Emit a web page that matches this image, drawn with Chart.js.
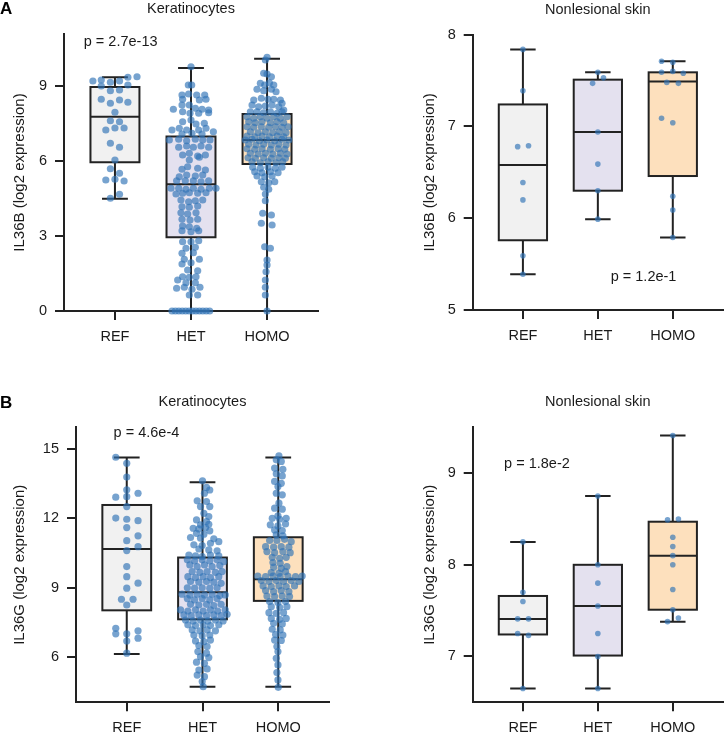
<!DOCTYPE html>
<html>
<head>
<meta charset="utf-8">
<script src="https://cdn.jsdelivr.net/npm/chart.js@4.4.1/dist/chart.umd.min.js"></script>
<style>
  body { margin: 0; background: #fff; width: 727px; height: 734px; overflow: hidden; position: relative; }
  canvas { position: absolute; left: 0; top: 0; }
  .tag { position: absolute; font: bold 17px "Liberation Sans", Arial, sans-serif; color: #000; }
</style>
</head>
<body>
<canvas id="keraB" width="727" height="734"></canvas>
<canvas id="skinB" width="727" height="734"></canvas>
<canvas id="keraG" width="727" height="734"></canvas>
<canvas id="skinG" width="727" height="734"></canvas>
<div class="tag" style="left:0px;top:-1px">A</div>
<div class="tag" style="left:0px;top:393px">B</div>
<script>
// groups on the x axis
const groups = ["REF", "HET", "HOMO"];

// points are [jitter offset, log2 expression]
// IL36B, keratinocytes
const keraB_ref = [
  [-0.29,9.2],[-0.18,9.24],[-0.06,9.15],[0.06,9.2],[0.17,9.35],[0.29,9.37],
  [-0.18,9.0],[-0.06,8.81],[0.06,8.84],[0.17,9.04],
  [-0.18,8.47],[-0.06,8.31],[0.06,8.44],[0.17,8.35],
  [0,7.95],[-0.06,7.61],[0.06,7.57],
  [-0.12,7.24],[0,7.32],[0.12,7.32],
  [-0.06,6.71],[0.06,6.55],[0,6.04],
  [-0.06,5.69],[0.06,5.51],
  [-0.12,5.24],[0,5.27],[0.12,5.2],
  [-0.06,4.51],[0.06,4.67]
];
const keraB_het = [
  [0,9.77],[-0.035,9.04],[0.009,9.04],
  [-0.118,8.64],[-0.031,8.68],[0.075,8.64],[0.18,8.64],
  [-0.11,8.47],[0.11,8.44],[0.197,8.47],
  [-0.232,8.07],[-0.118,8.24],[-0.022,8.24],[0.057,8.11],[0.145,8.07],[0.232,8.04],
  [-0.11,7.97],[-0.013,7.91],[0.101,7.91],[0.232,7.93],
  [-0.11,7.57],[0,7.64],[0.066,7.48],[0.175,7.51],
  [-0.154,7.31],[-0.057,7.24],[0.101,7.24],[0.197,7.31],[-0.25,7.24],[0.294,7.17],
  [-0.118,7.08],[0.013,7.11],[0.145,7.08],
  [-0.285,6.84],[-0.162,6.87],[-0.057,6.81],[0.057,6.87],[0.154,6.84],[0.25,6.84],
  [-0.162,6.55],[-0.057,6.6],[0.031,6.55],[0.132,6.6],[0.232,6.55],
  [-0.11,6.24],[-0.022,6.31],[0.088,6.2],[0.189,6.24],
  [-0.022,6.04],[0.11,6.15],
  [-0.118,5.67],[-0.044,5.77],[0.088,5.71],[0.189,5.64],
  [-0.154,5.37],[-0.057,5.44],[0.057,5.4],[0.154,5.44],
  [-0.189,5.21],[-0.075,5.21],[0.031,5.21],[0.132,5.17],[0.232,5.21],
  [-0.263,4.91],[-0.162,4.91],[-0.066,4.87],[0.031,4.91],[0.132,4.87],[0.241,4.91],[0.329,4.91],
  [-0.197,4.68],[-0.11,4.71],[-0.022,4.73],[0.088,4.71],[0.197,4.73],
  [-0.132,4.44],[-0.031,4.37],[0.057,4.41],[0.154,4.44],
  [-0.118,4.17],[-0.022,4.15],[0.088,4.2],
  [-0.132,3.93],[-0.044,3.88],[0.066,3.93],
  [-0.118,3.67],[-0.013,3.64],[0.088,3.67],
  [-0.11,3.4],[-0.022,3.37],[0.075,3.31],
  [-0.118,3.21],[0,3.17],[0.101,3.21],
  [-0.11,2.77],[0,2.77],[0.101,2.81],
  [-0.066,2.51],[0.057,2.55],
  [-0.118,2.31],[0.031,2.33],
  [-0.088,2.07],[0.11,2.07],
  [-0.118,1.88],[0,1.93],
  [-0.044,1.64],[0.088,1.61],
  [-0.11,1.37],[-0.022,1.35],[0.066,1.37],
  [-0.175,1.24],[-0.066,1.13],[0.057,1.13],
  [-0.189,0.91],[-0.088,0.95],[0.013,0.87],[0.118,0.95],
  [-0.022,0.64],[0.088,0.64],
  [-0.25,0],[-0.205,0],[-0.16,0],[-0.115,0],[-0.07,0],[-0.025,0],
  [0.02,0],[0.065,0],[0.11,0],[0.155,0],[0.2,0],[0.245,0]
];
const keraB_homo = [
  [0,10.15],[-0.022,10.04],
  [-0.044,9.51],[0,9.48],[0.057,9.37],
  [-0.088,9.11],[-0.031,9.04],[0.031,9.13],[0.088,9.04],
  [-0.132,8.87],[-0.044,8.81],[0.057,8.87],[0.118,8.77],
  [-0.175,8.44],[-0.075,8.51],[0.013,8.47],[0.088,8.47],[0.175,8.44],[0.197,8.31],
  [-0.197,8.24],[-0.11,8.17],[-0.022,8.2],[0.066,8.24],[0.154,8.17],[0.219,8.04],
  [-0.219,7.97],[-0.132,7.97],[-0.044,7.93],[0.044,7.97],[0.132,7.91],[0.197,7.97],
  [-0.263,7.77],[-0.175,7.71],[-0.088,7.77],[0,7.71],[0.088,7.77],[0.175,7.71],[0.263,7.77],
  [-0.241,7.57],[-0.154,7.53],[-0.066,7.57],[0.044,7.53],[0.132,7.57],[0.219,7.53],
  [-0.263,7.37],[-0.175,7.35],[-0.075,7.37],[0.022,7.35],[0.11,7.37],[0.197,7.35],[0.276,7.37],
  [-0.219,7.17],[-0.118,7.13],[-0.022,7.17],[0.075,7.13],[0.162,7.17],[0.25,7.13],
  [-0.263,7.0],[-0.162,6.97],[-0.066,7.0],[0.031,6.97],[0.132,7.0],[0.219,6.97],
  [-0.285,6.84],[-0.197,6.87],[-0.101,6.81],[0,6.84],[0.101,6.81],[0.197,6.87],[0.285,6.84],
  [-0.241,6.67],[-0.145,6.64],[-0.044,6.67],[0.057,6.64],[0.154,6.67],[0.25,6.64],
  [-0.263,6.49],[-0.162,6.47],[-0.066,6.49],[0.044,6.47],[0.145,6.49],[0.232,6.47],
  [-0.219,6.31],[-0.118,6.28],[-0.022,6.31],[0.075,6.28],[0.175,6.31],[0.263,6.28],
  [-0.25,6.13],[-0.154,6.11],[-0.044,6.13],[0.057,6.11],[0.154,6.13],[0.241,6.11],
  [-0.197,5.97],[-0.088,5.93],[0.013,5.97],[0.118,5.93],[0.206,5.97],
  [-0.189,5.75],[-0.088,5.71],[0.013,5.75],[0.11,5.71],[0.197,5.75],
  [-0.162,5.57],[-0.066,5.53],[0.044,5.57],[0.145,5.53],
  [-0.132,5.4],[-0.031,5.37],[0.066,5.4],
  [-0.075,5.17],[0.022,5.13],[0.101,5.17],
  [-0.044,4.95],[0.022,4.87],[-0.022,4.68],[-0.022,4.41],
  [-0.057,3.91],[0.057,3.84],[-0.075,3.51],[0.066,3.44],
  [-0.031,2.57],[0.044,2.51],
  [0,2.04],[0,1.84],[-0.013,1.57],[-0.022,1.24],[-0.022,0.95],[-0.022,0.64],[0,0]
];
// [min, q1, median, q3, max] per group
const keraB_box = [[4.49,5.95,7.77,8.96,9.35],[0,2.95,5.07,6.98,9.72],[0,5.88,6.84,7.88,10.09]];

// IL36B, nonlesional skin
const skinB_ref = [[0,7.84],[0,7.39],[-0.07,6.78],[0.075,6.79],[0,6.39],[0,6.2],[0,5.59],[0,5.39]];
const skinB_het = [[0,7.59],[-0.07,7.47],[0.075,7.53],[0,6.94],[0,6.59],[0,6.3],[0,5.99]];
const skinB_homo = [[-0.15,7.71],[0,7.7],[-0.15,7.59],[0,7.6],[0.14,7.58],[-0.08,7.48],[0.075,7.47],
  [-0.15,7.09],[0,7.04],[0,6.24],[0,6.09],[0,5.79]];
const skinB_box = [[5.39,5.76,6.58,7.24,7.84],[5.99,6.3,6.94,7.51,7.59],[5.79,6.46,7.49,7.59,7.71]];

// IL36G, keratinocytes
const keraG_ref = [
  [-0.145,14.65],[0,14.39],[0,13.79],[0,13.24],[-0.145,12.92],[0,12.94],[0.149,13.09],[0,12.51],
  [-0.145,12.01],[0,11.96],[0.149,11.9],[0,11.6],[0.149,11.24],[0,11.03],[0.149,10.77],[0,10.6],
  [0,9.91],[0,9.47],[0.149,9.19],[0,8.97],[-0.07,8.49],[0.083,8.49],[0,8.24],
  [-0.145,7.23],[0.149,7.12],[-0.145,6.99],[0,6.99],[0.149,6.8],[0,6.68],[0,6.15]
];
const keraG_het = [
  [0,13.63],[0.053,13.34],[0.096,13.23],[0.026,13.09],
  [-0.07,12.76],[0.053,12.73],[0.096,12.51],[-0.026,12.51],
  [0.018,12.22],[0.083,12.08],[-0.079,11.93],[0.053,11.86],[-0.026,11.72],[0.083,11.74],
  [-0.123,11.57],[-0.048,11.54],[0.04,11.6],[-0.079,11.35],[0.018,11.31],[0.096,11.46],
  [-0.158,11.17],[-0.026,11.14],[0.149,11.11],[0.105,10.92],[0.215,10.99],[-0.114,10.85],[-0.004,10.82],
  [-0.048,10.67],[0.083,10.63],[0.193,10.59],
  [-0.18,10.41],[-0.092,10.37],[-0.004,10.34],[0.105,10.41],[0.215,10.37],
  [-0.2,10.2],[-0.105,10.15],[-0.004,10.2],[0.096,10.15],[0.193,10.2],[0.28,10.12],
  [-0.167,9.98],[-0.07,9.91],[0.026,9.98],[0.127,9.91],[0.228,9.95],
  [-0.136,9.69],[-0.035,9.66],[0.061,9.69],[0.171,9.66],[0.259,9.69],
  [-0.193,9.47],[-0.092,9.43],[0.009,9.47],[0.105,9.43],[0.215,9.47],
  [-0.158,9.26],[-0.048,9.23],[0.053,9.26],[0.149,9.23],[0.246,9.18],
  [-0.2,8.99],[-0.105,8.97],[-0.004,8.99],[0.096,8.97],[0.193,8.99],
  [-0.27,8.71],[-0.167,8.68],[-0.07,8.71],[0.026,8.68],[0.127,8.71],[0.228,8.65],[0.3,8.68],
  [-0.2,8.52],[-0.105,8.46],[-0.004,8.52],[0.096,8.46],[0.193,8.52],
  [-0.158,8.27],[-0.048,8.24],[0.053,8.27],[0.149,8.22],[0.246,8.27],
  [-0.29,8.03],[-0.193,7.98],[-0.092,8.03],[0.009,7.98],[0.105,8.03],[0.2,7.98],[0.3,8.03],
  [-0.245,7.81],[-0.149,7.78],[-0.048,7.81],[0.053,7.78],[0.149,7.81],[0.246,7.78],[0.325,7.84],
  [-0.224,7.59],[-0.123,7.55],[-0.026,7.59],[0.07,7.55],[0.171,7.59],[0.272,7.55],
  [-0.193,7.38],[-0.092,7.35],[0.009,7.38],[0.105,7.35],[0.215,7.38],
  [-0.136,7.16],[-0.035,7.12],[0.061,7.16],[0.171,7.12],
  [-0.114,6.94],[-0.004,6.91],[0.096,6.94],
  [-0.092,6.68],[0.018,6.65],[0.105,6.72],
  [-0.048,6.48],[0.061,6.44],[-0.061,6.22],[0.053,6.15],
  [-0.026,6.0],[0.083,5.96],[-0.079,5.76],[0.026,5.71],
  [-0.048,5.42],[0.061,5.47],[-0.07,5.2],[0.026,5.13],
  [-0.004,4.92],[0.009,4.7]
];
const keraG_homo = [
  [0.009,14.71],[-0.026,14.54],[0.04,14.47],[-0.048,14.18],[0.061,14.13],[-0.026,13.93],[0.053,13.84],
  [-0.048,13.6],[0.04,13.52],[-0.004,13.38],[-0.026,13.09],[0.053,13.02],
  [0.009,12.66],[-0.048,12.44],[0.053,12.4],[-0.004,12.11],
  [-0.079,12.0],[0.018,11.96],[0.105,12.0],[-0.105,11.72],[-0.004,11.67],[0.096,11.76],
  [-0.048,11.5],[0.053,11.47],[-0.026,11.28],[0.061,11.24],
  [-0.114,11.04],[-0.018,11.04],[0.083,11.09],[0.171,10.99],
  [-0.167,10.77],[-0.061,10.75],[0.04,10.77],[0.14,10.75],
  [-0.149,10.56],[-0.048,10.51],[0.061,10.56],[0.158,10.51],
  [-0.079,10.31],[0.018,10.27],[0.105,10.31],
  [-0.07,10.08],[0.026,10.05],
  [-0.061,9.88],[0.04,9.83],[0.114,9.91],
  [-0.092,9.65],[0.009,9.62],[0.096,9.69],
  [-0.27,9.5],[-0.167,9.47],[-0.07,9.5],[0.026,9.47],[0.127,9.5],[0.228,9.47],[0.316,9.5],
  [-0.224,9.3],[-0.123,9.26],[-0.026,9.3],[0.07,9.26],[0.171,9.3],[0.272,9.26],
  [-0.2,9.07],[-0.092,9.04],[0.009,9.07],[0.105,9.04],[0.215,9.07],
  [-0.167,8.87],[-0.061,8.82],[0.04,8.87],[0.14,8.82],
  [-0.149,8.63],[-0.048,8.61],[0.053,8.63],[0.149,8.61],
  [-0.114,8.39],[-0.004,8.35],[0.096,8.39],
  [-0.092,8.17],[0.018,8.14],[0.114,8.17],
  [-0.123,7.91],[-0.026,7.88],[0.07,7.91],
  [-0.092,7.66],[0.018,7.62],[0.105,7.66],
  [-0.061,7.45],[0.053,7.42],[-0.079,7.19],[0.026,7.16],
  [-0.035,6.96],[0.061,6.94],[-0.048,6.72],[0.04,6.7],
  [-0.018,6.44],[-0.004,6.22],[-0.026,5.93],[-0.004,5.64],[-0.018,5.31],[-0.004,4.99],[0,4.67]
];
const keraG_box = [[6.12,8.01,10.67,12.58,14.64],[4.7,7.62,8.79,10.3,13.57],[4.7,8.42,9.36,11.18,14.64]];

// IL36G, nonlesional skin
const skinG_ref = [[0,8.25],[0,7.7],[0,7.6],[-0.07,7.41],[0.075,7.41],[-0.07,7.25],[0.075,7.23],[0,6.65]];
const skinG_het = [[0,8.75],[0,8.0],[0,7.8],[0,7.55],[0,7.25],[0,7.0],[0,6.65]];
const skinG_homo = [[0,9.41],[-0.07,8.49],[0.075,8.5],[0,8.3],[0,8.2],[0,8.1],[0,8.0],[0,7.73],[0,7.51],[0.075,7.42],[-0.07,7.38]];
const skinG_box = [[6.65,7.24,7.41,7.66,8.25],[6.65,7.01,7.55,8.0,8.75],[7.38,7.51,8.1,8.47,9.41]];

// tick values on the y axes
const keraB_ticks = [0, 3, 6, 9];
const skinB_ticks = [5, 6, 7, 8];
const keraG_ticks = [6, 9, 12, 15];
const skinG_ticks = [7, 8, 9];

const pValues = ["p = 2.7e-13", "p = 1.2e-1", "p = 4.6e-4", "p = 1.8e-2"];

const FONT = '"Liberation Sans", Arial, sans-serif';
const ink = "#222";
const fills = ["#f1f1f1", "#e4e1ef", "#fde0bd"];
const dotColor = "rgba(48,115,182,0.66)";

function makePanel(cfg) {
  const a = cfg.area;
  const datasets = cfg.points.map((pts, i) => ({
    data: pts.map(p => ({ x: i + p[0], y: p[1] })),
    backgroundColor: dotColor,
    borderWidth: 0,
    pointRadius: cfg.radius,
    clip: false,
  }));

  const axisGrid = { drawOnChartArea: false, drawTicks: true, tickLength: 9, color: ink, lineWidth: 2 };
  const axisBorder = { display: true, color: ink, width: 2 };

  // boxes, whiskers, panel title and p-value
  const boxes = {
    id: "boxes",
    beforeDatasetsDraw(chart) {
      const { ctx, scales: { x, y } } = chart;
      ctx.save();
      ctx.strokeStyle = ink;
      ctx.lineWidth = 2;
      cfg.box.forEach((b, i) => {
        const cx = x.getPixelForValue(i);
        const hw = x.getPixelForValue(i + 0.322) - cx;
        const cw = x.getPixelForValue(i + 0.17) - cx;
        const [lo, q1, med, q3, hi] = b.map(v => y.getPixelForValue(v));
        ctx.beginPath();
        ctx.moveTo(cx, lo); ctx.lineTo(cx, hi);
        ctx.moveTo(cx - cw, lo); ctx.lineTo(cx + cw, lo);
        ctx.moveTo(cx - cw, hi); ctx.lineTo(cx + cw, hi);
        ctx.stroke();
        ctx.fillStyle = fills[i];
        ctx.fillRect(cx - hw, q3, hw * 2, q1 - q3);
        ctx.strokeRect(cx - hw, q3, hw * 2, q1 - q3);
        ctx.beginPath();
        ctx.moveTo(cx - hw, med); ctx.lineTo(cx + hw, med);
        ctx.stroke();
      });
      ctx.restore();
    },
    afterDraw(chart) {
      const { ctx, chartArea, scales: { x, y } } = chart;
      ctx.save();
      ctx.fillStyle = "#1a1a1a";
      ctx.font = "14.5px " + FONT;
      ctx.textAlign = "center";
      ctx.textBaseline = "middle";
      ctx.fillText(cfg.title, (chartArea.left + chartArea.right) / 2, chartArea.top - 25);
      ctx.fillText(cfg.p, x.getPixelForValue(cfg.pAt[0]), y.getPixelForValue(cfg.pAt[1]));
      ctx.restore();
    },
  };

  new Chart(document.getElementById(cfg.id), {
    type: "scatter",
    data: { datasets },
    options: {
      responsive: false,
      animation: false,
      devicePixelRatio: 1,
      layout: { padding: { left: a.left - cfg.yWidth, top: a.top, right: 727 - a.right, bottom: 734 - a.bottom - 30 } },
      plugins: { legend: { display: false }, tooltip: { enabled: false } },
      scales: {
        x: {
          type: "linear", min: -0.67, max: 2.67,
          afterBuildTicks: s => { s.ticks = groups.map((g, i) => ({ value: i })); },
          afterFit: s => { s.height = 30; },
          ticks: { callback: v => groups[v], font: { family: FONT, size: 14.5 }, color: "#1a1a1a", padding: 8 },
          grid: axisGrid, border: axisBorder,
        },
        y: {
          min: cfg.yMin, max: cfg.yMax,
          afterBuildTicks: s => { s.ticks = cfg.yTicks.map(v => ({ value: v })); },
          afterFit: s => { s.width = cfg.yWidth; },
          ticks: { font: { family: FONT, size: 14.5 }, color: "#1a1a1a", padding: 8 },
          grid: axisGrid, border: axisBorder,
          title: { display: true, text: cfg.yTitle, font: { family: FONT, size: 15 }, color: "#1a1a1a", padding: { top: 8, bottom: 0 } },
        },
      },
    },
    plugins: [boxes],
  });
}

makePanel({
  id: "keraB", title: "Keratinocytes", yTitle: "IL36B (log2 expression)",
  points: [keraB_ref, keraB_het, keraB_homo], box: keraB_box, yTicks: keraB_ticks,
  yMin: 0, yMax: 11.08, p: pValues[0], pAt: [0.075, 10.77],
  area: { left: 64, top: 34, right: 318, bottom: 311 }, yWidth: 61, radius: 3.6,
});
makePanel({
  id: "skinB", title: "Nonlesional skin", yTitle: "IL36B (log2 expression)",
  points: [skinB_ref, skinB_het, skinB_homo], box: skinB_box, yTicks: skinB_ticks,
  yMin: 5, yMax: 8, p: pValues[1], pAt: [1.61, 5.36],
  area: { left: 472.7, top: 34.7, right: 727, bottom: 310 }, yWidth: 60, radius: 2.8,
});
makePanel({
  id: "keraG", title: "Keratinocytes", yTitle: "IL36G (log2 expression)",
  points: [keraG_ref, keraG_het, keraG_homo], box: keraG_box, yTicks: keraG_ticks,
  yMin: 4.02, yMax: 15.95, p: pValues[2], pAt: [0.26, 15.7],
  area: { left: 76, top: 427.3, right: 329, bottom: 702.3 }, yWidth: 73, radius: 3.6,
});
makePanel({
  id: "skinG", title: "Nonlesional skin", yTitle: "IL36G (log2 expression)",
  points: [skinG_ref, skinG_het, skinG_homo], box: skinG_box, yTicks: skinG_ticks,
  yMin: 6.5, yMax: 9.5, p: pValues[3], pAt: [0.187, 9.1],
  area: { left: 472.7, top: 427.3, right: 727, bottom: 702.3 }, yWidth: 60, radius: 2.8,
});
</script>
</body>
</html>
